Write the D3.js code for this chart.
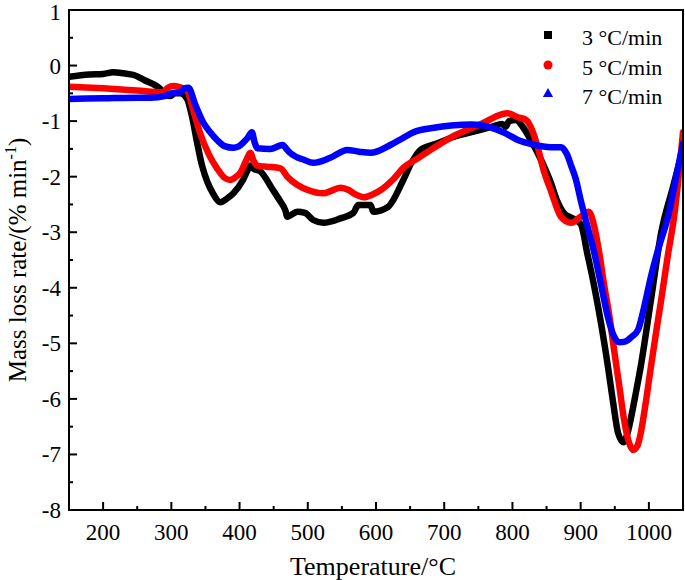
<!DOCTYPE html>
<html><head><meta charset="utf-8">
<script src="https://cdn.jsdelivr.net/npm/d3@7/dist/d3.min.js"></script>
<style>body{margin:0;background:#fff}svg{display:block}text{font-family:"Liberation Serif","Times New Roman",serif;fill:#000}</style>
</head><body><svg id="c" width="685" height="580"></svg>
<script>
const xTicks = [200,300,400,500,600,700,800,900,1000];
const yTicks = [1,0,-1,-2,-3,-4,-5,-6,-7,-8];
const seriesNames = ["3 \u00B0C/min","5 \u00B0C/min","7 \u00B0C/min"];
const seriesColors = ["#000000","#ff0000","#0000ff"];

const tempBlack = [150,180,200,215,230,245,260,280,298,305,313,323,330,338,345,353,361,372,381,391,405,412,416,421,430,449,460,467,470,485,496,508,523,548,567,574,592,596,617,640,652,665,690,710,740,770,785,790,795,805,815,825,842,856,866,875,888,900,910,919,930,940,948,955,963,968,974,980,988,1003,1018,1035,1050];
const rateBlack = [-0.2,-0.16,-0.15,-0.12,-0.14,-0.17,-0.26,-0.38,-0.55,-0.5,-0.5,-0.6,-0.9,-1.4,-1.8,-2.1,-2.3,-2.46,-2.4,-2.3,-2.06,-1.88,-1.8,-1.86,-1.9,-2.24,-2.45,-2.6,-2.72,-2.63,-2.65,-2.78,-2.83,-2.75,-2.65,-2.51,-2.51,-2.63,-2.55,-2.06,-1.75,-1.52,-1.4,-1.3,-1.2,-1.1,-1.05,-1.1,-1.0,-0.98,-1.1,-1.3,-1.7,-2.1,-2.45,-2.65,-2.75,-2.85,-3.4,-3.92,-4.65,-5.42,-6.1,-6.62,-6.78,-6.65,-6.33,-5.95,-5.42,-4.22,-3.01,-2.2,-1.5];

const tempRed = [150,200,250,288,295,303,315,323,332,342,355,367,378,386,395,401,410,416,420,426,440,460,470,485,500,523,535,548,560,570,582,595,607,625,641,660,676,709,735,758,775,793,808,820,830,837,846,856,871,886,900,912,920,927,934,942,949,957,963,970,977,983,988,995,1003,1010,1018,1028,1037,1050];
const rateRed = [-0.38,-0.41,-0.45,-0.48,-0.4,-0.37,-0.4,-0.45,-0.8,-1.21,-1.6,-1.85,-2.02,-2.06,-2.0,-1.93,-1.7,-1.57,-1.7,-1.8,-1.82,-1.85,-2.0,-2.15,-2.24,-2.3,-2.25,-2.2,-2.24,-2.32,-2.37,-2.32,-2.24,-2.05,-1.83,-1.68,-1.55,-1.3,-1.15,-1.03,-0.92,-0.86,-0.93,-0.98,-1.2,-1.47,-1.9,-2.24,-2.72,-2.83,-2.72,-2.63,-2.9,-3.35,-3.92,-4.5,-5.12,-5.8,-6.33,-6.75,-6.92,-6.85,-6.62,-6.1,-5.42,-4.85,-4.22,-3.4,-2.72,-1.2];

const tempBlue = [150,200,250,270,290,300,313,318,325,335,347,357,367,378,391,398,405,412,418,422,426,445,463,470,475,495,508,533,558,575,592,621,640,655,685,710,740,770,790,808,830,856,871,880,886,893,900,910,919,930,940,948,956,965,975,984,993,1003,1015,1028,1040,1050];
const rateBlue = [-0.6,-0.59,-0.58,-0.58,-0.55,-0.5,-0.48,-0.42,-0.4,-0.7,-1.03,-1.2,-1.34,-1.45,-1.48,-1.46,-1.39,-1.3,-1.2,-1.38,-1.49,-1.5,-1.43,-1.52,-1.58,-1.7,-1.75,-1.66,-1.52,-1.55,-1.57,-1.43,-1.3,-1.2,-1.12,-1.08,-1.06,-1.12,-1.22,-1.34,-1.42,-1.47,-1.47,-1.6,-1.8,-2.05,-2.42,-2.9,-3.32,-3.95,-4.53,-4.85,-4.98,-4.97,-4.88,-4.76,-4.35,-3.8,-3.25,-2.72,-2.0,-1.4];

const L=69,T=10,R=683,B=510;
const svg=d3.select("#c");
const x=d3.scaleLinear().domain([150,1050]).range([L,R]);
const y=d3.scaleLinear().domain([-8,1]).range([B,T]);

const series=[[tempBlack,rateBlack],[tempRed,rateRed],[tempBlue,rateBlue]];
const line=d3.line().x(d=>x(d[0])).y(d=>y(d[1])).curve(d3.curveMonotoneX);
svg.append("clipPath").attr("id","cp").append("rect").attr("x",L).attr("y",T).attr("width",R-L).attr("height",B-T);
const g=svg.append("g").attr("clip-path","url(#cp)");
series.forEach((s,i)=>{
  const pts=s[0].map((t,j)=>[t,s[1][j]]);
  g.append("path").datum(pts).attr("d",line).attr("fill","none")
   .attr("stroke",seriesColors[i]).attr("stroke-width",6.5)
   .attr("stroke-linejoin","round").attr("stroke-linecap","round");
});

// frame
svg.append("rect").attr("x",L).attr("y",T).attr("width",R-L).attr("height",B-T)
  .attr("fill","none").attr("stroke","#000").attr("stroke-width",2);

// ticks (inward)
const xMinor=d3.range(150,1051,50).filter(v=>v%100!==0);
const ax=svg.append("g");
xTicks.forEach(v=>{
  ax.append("line").attr("x1",x(v)).attr("x2",x(v)).attr("y1",B).attr("y2",B-8).attr("stroke","#000").attr("stroke-width",2);
  ax.append("text").attr("x",x(v)).attr("y",540).attr("text-anchor","middle").attr("font-size",23).text(v);
});
xMinor.forEach(v=>{
  ax.append("line").attr("x1",x(v)).attr("x2",x(v)).attr("y1",B).attr("y2",B-4).attr("stroke","#000").attr("stroke-width",2);
});
yTicks.forEach(v=>{
  ax.append("line").attr("x1",L).attr("x2",L+8).attr("y1",y(v)).attr("y2",y(v)).attr("stroke","#000").attr("stroke-width",2);
  ax.append("text").attr("x",61).attr("y",Math.max(y(v),12)).attr("dy","0.35em").attr("text-anchor","end").attr("font-size",23).text(v);
});
d3.range(-7.5,1,1).forEach(v=>{
  ax.append("line").attr("x1",L).attr("x2",L+4).attr("y1",y(v)).attr("y2",y(v)).attr("stroke","#000").attr("stroke-width",2);
});

// axis titles
svg.append("text").attr("x",373).attr("y",575).attr("text-anchor","middle").attr("font-size",26).text("Temperature/\u00B0C");
const yt=svg.append("text").attr("transform","translate(26,260) rotate(-90)").attr("text-anchor","middle").attr("font-size",25);
yt.append("tspan").text("Mass loss rate/(% min");
yt.append("tspan").attr("dy",-10).attr("font-size",16).text("-1");
yt.append("tspan").attr("dy",10).text(")");

// legend
const ly=[35,65,94];
const leg=svg.append("g");
leg.append("rect").attr("x",548-4).attr("y",ly[0]-4).attr("width",8).attr("height",8).attr("fill",seriesColors[0]);
leg.append("circle").attr("cx",548).attr("cy",ly[1]).attr("r",4.5).attr("fill",seriesColors[1]);
leg.append("path").attr("d",d3.symbol(d3.symbolTriangle,45)()).attr("transform",`translate(548,${ly[2]})`).attr("fill",seriesColors[2]);
seriesNames.forEach((n,i)=>{
  leg.append("text").attr("x",582).attr("y",ly[i]+10).attr("font-size",22).text(n);
});
</script></body></html>
